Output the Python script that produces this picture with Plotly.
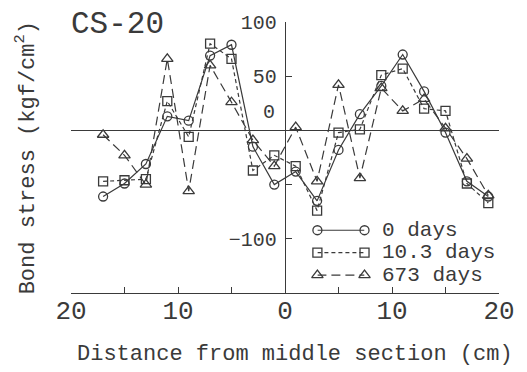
import plotly.graph_objects as go

# ---------------- data ----------------
distance = [-17, -15, -13, -11, -9, -7, -5, -3, -1, 1, 3, 5, 7, 9, 11, 13, 15, 17, 19]
stress_0d = [-61, -49, -31, 13, 9, 69, 79, -15, -50, -38, -65, -18, 15, 41, 70, 36, -2, -47, -61]
stress_10_3d = [-47, -46, -45, 27, -6, 80, 66, -37, -23, -33, -74, -2, 1, 51, 57, 20, 18, -49, -67]
stress_673d = [-4, -23, -50, 66, -56, 60, 26, -9, -33, 3, -47, 42, -44, 39, 18, 29, 2, -26, -60]

series_names = ["0 days", "10.3 days", "673 days"]
x_tickvals = [-20, -10, 0, 10, 20]
x_ticktext = ["20", "10", "0", "10", "20"]
y_tickvals = [-100, 50, 100]
y_ticktext = ["\u2212100", "50", "100"]

# ---------------- style ----------------
FONT = "Liberation Mono"
INK = "#3a3a3a"
LINE = "#3a3a3a"
styles = [
    dict(symbol="circle-open", dash="solid", size=9),
    dict(symbol="square-open", dash="4px,3px", size=9),
    dict(symbol="triangle-up-open", dash="9px,5px", size=10),
]
series_vals = [stress_0d, stress_10_3d, stress_673d]

fig = go.Figure()
for name, vals, st in zip(series_names, series_vals, styles):
    fig.add_trace(go.Scatter(
        x=distance, y=vals, mode="lines+markers", name=name, showlegend=False,
        line=dict(color=LINE, width=1.2, dash=st["dash"]),
        marker=dict(symbol=st["symbol"], size=st["size"], color=LINE,
                    line=dict(color=LINE, width=1.3)),
        xaxis="x", yaxis="y", cliponaxis=False,
    ))

# custom legend (samples with a marker at each end), drawn on a helper axis pair
for i, (name, st) in enumerate(zip(series_names, styles)):
    fig.add_trace(go.Scatter(
        x=[0, 1], y=[i, i], mode="lines+markers", showlegend=False, hoverinfo="skip",
        line=dict(color=LINE, width=1.2, dash=st["dash"]),
        marker=dict(symbol=st["symbol"], size=st["size"], color=LINE,
                    line=dict(color=LINE, width=1.3)),
        xaxis="x2", yaxis="y2", cliponaxis=False,
    ))

annotations = [
    dict(text="CS-20", x=0.108, y=0.989, xref="paper", yref="paper",
         xanchor="center", yanchor="middle", showarrow=False,
         font=dict(family=FONT, size=31, color=INK)),
    dict(text="0", x=0, y=0, xref="x", yref="y", xanchor="right", yanchor="middle",
         xshift=-8, yshift=18, showarrow=False,
         font=dict(family=FONT, size=20, color=INK)),
    dict(text="Distance from middle section (cm)", x=0.523, y=-0.228,
         xref="paper", yref="paper", xanchor="center", yanchor="middle",
         showarrow=False, font=dict(family=FONT, size=22, color=INK)),
    dict(text="Bond stress (kgf/cm<sup>2</sup>)", x=-0.1055, y=0.5,
         xref="paper", yref="paper", xanchor="center", yanchor="middle",
         textangle=-90, showarrow=False, font=dict(family=FONT, size=22, color=INK)),
]
for i, name in enumerate(series_names):
    annotations.append(dict(
        text=name, x=0.7225, y=i, xref="paper", yref="y2",
        xanchor="left", yanchor="middle", showarrow=False,
        font=dict(family=FONT, size=21, color=INK)))

fig.update_layout(
    width=527, height=372,
    margin=dict(l=71, r=20, t=21, b=79),
    paper_bgcolor="white", plot_bgcolor="white",
    showlegend=False,
    xaxis=dict(
        range=[-20, 20], domain=[0, 1], anchor="y",
        tickvals=x_tickvals, ticktext=x_ticktext,
        ticks="inside", ticklen=6, tickcolor=LINE, tickwidth=1.3,
        minor=dict(dtick=5, tick0=0, ticks="inside", ticklen=6, tickcolor=LINE, tickwidth=1.3),
        showline=True, linecolor=LINE, linewidth=1.3,
        showgrid=False, zeroline=False,
        tickfont=dict(family=FONT, size=26, color=INK),
        ticklabelstandoff=-6,
    ),
    yaxis=dict(
        range=[-150, 100], domain=[0, 1], anchor="free", position=0.5,
        tickvals=y_tickvals, ticktext=y_ticktext,
        ticks="inside", ticklen=6, tickcolor=LINE, tickwidth=1.3,
        minor=dict(dtick=50, tick0=0, ticks="inside", ticklen=6, tickcolor=LINE, tickwidth=1.3),
        showline=True, linecolor=LINE, linewidth=1.3,
        showgrid=False, zeroline=True, zerolinecolor=LINE, zerolinewidth=1.4,
        tickfont=dict(family=FONT, size=20, color=INK),
        ticklabelstandoff=4,
    ),
    xaxis2=dict(domain=[0.5757, 0.6858], range=[0, 1], anchor="y2", visible=False),
    yaxis2=dict(domain=[0.0248, 0.273], range=[2.5, -0.5], anchor="x2", visible=False),
    annotations=annotations,
)

fig.write_html("out.html")
